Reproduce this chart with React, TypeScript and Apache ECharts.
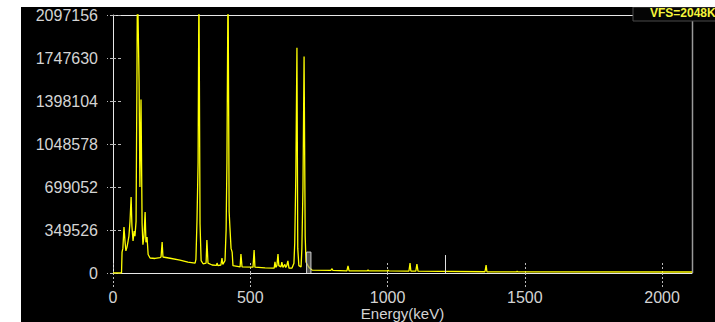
import React, { useEffect, useRef } from "react";
import * as echarts from "echarts";

const energies = [
  0, 31, 33, 36, 40, 44, 47, 51, 55, 58, 62, 66, 69, 73, 77, 80, 84, 87, 89, 91, 95, 98, 102, 106, 109, 113, 117, 120, 124,
  128, 135, 153, 171, 175, 179, 182, 208, 244, 273, 299, 302, 306, 310, 313, 317, 321, 328, 339, 342, 346, 361, 377, 379,
  382, 393, 397, 400, 408, 412, 415, 419, 423, 426, 430, 434, 437, 463, 466, 470, 510, 514, 517, 554, 587, 590, 593, 597,
  601, 604, 612, 615, 619, 626, 629, 633, 637, 641, 652, 659, 662, 666, 670, 673, 677, 685, 688, 692, 696, 700, 703, 710,
  716, 725, 794, 797, 801, 852, 856, 860, 927, 929, 931, 1000, 1002, 1004, 1078, 1082, 1085, 1103, 1107, 1111, 1355, 1359,
  1362, 1470, 1472, 1474, 2109,
];
const counts = [
  0, 0, 170000, 200000, 374000, 250000, 180000, 210000, 260000, 300000, 420000, 618000, 380000, 260000, 340000, 300000,
  420000, 1500000, 2400000, 2400000, 1550000, 700000, 1410000, 400000, 230000, 300000, 496000, 250000, 293000, 150000,
  122000, 118000, 125000, 130000, 252000, 130000, 120000, 105000, 89000, 80000, 110000, 431000, 900000, 2400000, 400000,
  100000, 75000, 80000, 268000, 80000, 65000, 62000, 81000, 60000, 65000, 122000, 70000, 100000, 350000, 900000, 2400000,
  500000, 366000, 200000, 170000, 60000, 50000, 154000, 50000, 48000, 187000, 48000, 42000, 40000, 90000, 45000, 60000,
  154000, 60000, 50000, 89000, 45000, 70000, 45000, 60000, 98000, 40000, 40000, 80000, 244000, 800000, 1830000, 200000,
  60000, 50000, 200000, 700000, 1760000, 300000, 90000, 60000, 40000, 24000, 22000, 35000, 22000, 18000, 57000, 18000,
  18000, 26000, 18000, 17000, 24000, 17000, 16000, 81000, 16000, 16000, 73000, 16000, 10000, 65000, 10000, 9000, 15000,
  9000, 8000,
];
const roiEnergies = [705, 705, 721, 721];
const roiCounts = [0, 170000, 170000, 0];
const markerEnergy = 1209;
const markerCount = 146000;

const xTicks = [0, 500, 1000, 1500, 2000];
const yMax = 2097156;
const yStep = 349526;
const xMax = 2109;

export default function App() {
  const ref = useRef<HTMLDivElement>(null);
  useEffect(() => {
    if (!ref.current) return;
    const chart = echarts.init(ref.current, null, { renderer: "svg" });
    const data = energies.map((e, i) => [e, counts[i]]);
    const roi = roiEnergies.map((e, i) => [e, roiCounts[i]]);
    const labelStyle = { color: "#d4d4d4", fontFamily: "Arial, 'Liberation Sans', sans-serif", fontSize: 16 };
    const plain = (v: number) => String(v);
    chart.setOption({
      animation: false,
      backgroundColor: "#000",
      grid: { left: 92, top: 8, right: 23, bottom: 49, containLabel: false, outerBoundsMode: "none" },
      xAxis: [
        {
          type: "value",
          min: 0,
          max: xMax,
          interval: 500,
          position: "bottom",
          splitLine: { show: false },
          axisLine: { show: true, lineStyle: { color: "#e8e8e8", width: 1 } },
          axisTick: { show: true, length: 14, customValues: xTicks, lineStyle: { color: "#bbb", type: [2, 2] } },
          axisLabel: { ...labelStyle, lineHeight: 16, margin: 16, customValues: xTicks, formatter: plain },
          name: "Energy(keV)",
          nameLocation: "middle",
          nameGap: 33,
          nameMoveOverlap: false,
          nameTextStyle: { ...labelStyle, fontSize: 15, lineHeight: 15 },
        },
        {
          type: "value",
          min: 0,
          max: xMax,
          interval: 500,
          position: "bottom",
          splitLine: { show: false },
          axisLine: { show: false },
          axisTick: { show: true, inside: true, length: 11, customValues: xTicks, lineStyle: { color: "#bbb", type: [2, 2] } },
          axisLabel: { show: false },
        },
      ],
      yAxis: [
        {
          type: "value",
          min: 0,
          max: yMax,
          interval: yStep,
          splitLine: { show: false },
          axisLine: { show: true, lineStyle: { color: "#e8e8e8", width: 1 } },
          axisTick: { show: true, length: 6, lineStyle: { color: "#bbb", type: [3, 2] } },
          axisLabel: { ...labelStyle, margin: 15, formatter: plain },
        },
        {
          type: "value",
          min: 0,
          max: yMax,
          interval: yStep,
          position: "left",
          splitLine: { show: false },
          axisLine: { show: false },
          axisTick: { show: true, inside: true, length: 9, lineStyle: { color: "#bbb", type: [3, 2] } },
          axisLabel: { show: false },
        },
      ],
      series: [
        {
          type: "line",
          data,
          showSymbol: false,
          symbol: "none",
          z: 3,
          lineStyle: { color: "#ffff00", width: 1.3 },
          clip: true,
          markLine: {
            symbol: "none",
            silent: true,
            label: { show: false },
            lineStyle: { color: "#e0e0e0", type: "solid", width: 1 },
            data: [[{ coord: [markerEnergy, 0] }, { coord: [markerEnergy, markerCount] }]],
          },
        },
        {
          type: "line",
          data: roi,
          symbol: "none",
          z: 4,
          lineStyle: { color: "#d0d0d0", width: 1 },
          areaStyle: { color: "#8a8a8a", opacity: 0.6 },
        },
      ],
      graphic: [
        { type: "line", shape: { x1: 92, y1: 8.5, x2: 612, y2: 8.5 }, style: { stroke: "#e8e8e8", lineWidth: 1 } },
        { type: "line", shape: { x1: 671.5, y1: 14, x2: 671.5, y2: 266 }, style: { stroke: "#9a9a9a", lineWidth: 1.5 } },
        {
          type: "rect",
          shape: { x: 612, y: 0, width: 90, height: 14 },
          style: { fill: "#050505", stroke: "#4a4a4a", lineWidth: 1 },
        },
        {
          type: "text",
          x: 629,
          y: 6,
          style: {
            text: "VFS=2048K",
            fill: "#f5f53c",
            font: "bold 12px Arial, 'Liberation Sans', sans-serif",
            verticalAlign: "middle",
          },
        },
      ],
    });
    return () => chart.dispose();
  }, []);
  return (
    <div style={{ position: "absolute", left: 0, top: 0, width: 715, height: 322, background: "#fff", overflow: "hidden" }}>
      <div ref={ref} style={{ position: "absolute", left: 21, top: 7, width: 694, height: 315 }} />
    </div>
  );
}
